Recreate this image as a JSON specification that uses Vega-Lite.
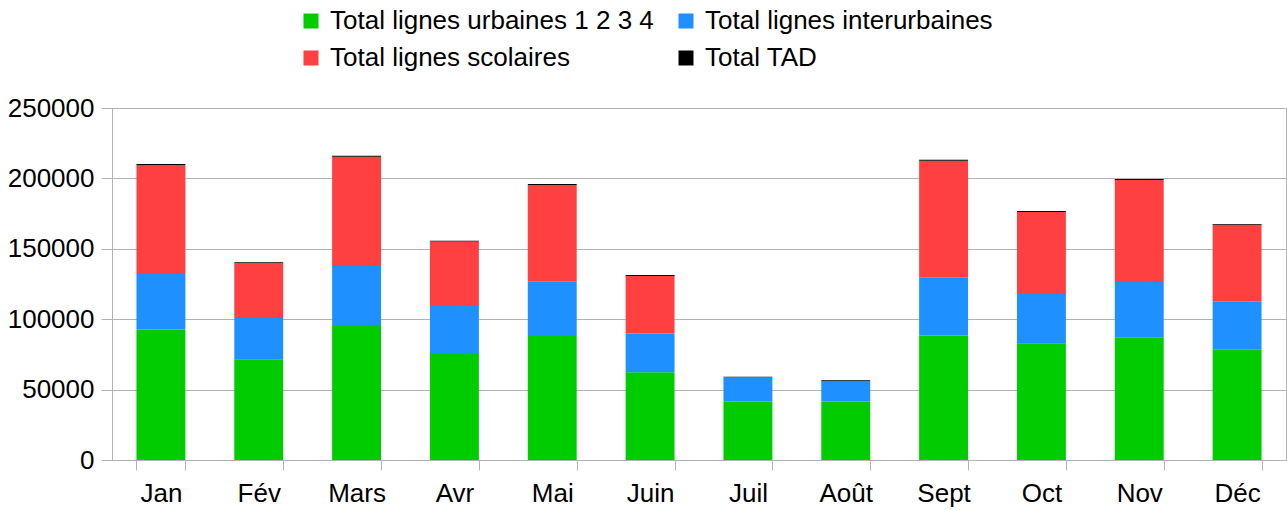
{
  "$schema": "https://vega.github.io/schema/vega-lite/v6.json",
  "autosize": {"type": "none"},
  "padding": {"left": 112, "top": 108, "right": 1, "bottom": 50},
  "width": 1174,
  "height": 352,
  "config": {
    "font": "Liberation Sans",
    "view": {"stroke": "#b3b3b3", "strokeWidth": 1},
    "axis": {"labelFont": "Liberation Sans", "labelFontSize": 26, "labelColor": "#000000", "domainColor": "#b3b3b3", "tickColor": "#b3b3b3", "gridColor": "#b3b3b3", "title": null}
  },
  "data": {
    "values": [
      {"mois": "Jan", "serie": "Total lignes urbaines 1 2 3 4", "valeur": 92600},
      {"mois": "Jan", "serie": "Total lignes interurbaines", "valeur": 39500},
      {"mois": "Jan", "serie": "Total lignes scolaires", "valeur": 77500},
      {"mois": "Jan", "serie": "Total TAD", "valeur": 700},
      {"mois": "Fév", "serie": "Total lignes urbaines 1 2 3 4", "valeur": 71500},
      {"mois": "Fév", "serie": "Total lignes interurbaines", "valeur": 29300},
      {"mois": "Fév", "serie": "Total lignes scolaires", "valeur": 39100},
      {"mois": "Fév", "serie": "Total TAD", "valeur": 600},
      {"mois": "Mars", "serie": "Total lignes urbaines 1 2 3 4", "valeur": 95100},
      {"mois": "Mars", "serie": "Total lignes interurbaines", "valeur": 42700},
      {"mois": "Mars", "serie": "Total lignes scolaires", "valeur": 77500},
      {"mois": "Mars", "serie": "Total TAD", "valeur": 700},
      {"mois": "Avr", "serie": "Total lignes urbaines 1 2 3 4", "valeur": 76000},
      {"mois": "Avr", "serie": "Total lignes interurbaines", "valeur": 33400},
      {"mois": "Avr", "serie": "Total lignes scolaires", "valeur": 45700},
      {"mois": "Avr", "serie": "Total TAD", "valeur": 700},
      {"mois": "Mai", "serie": "Total lignes urbaines 1 2 3 4", "valeur": 88000},
      {"mois": "Mai", "serie": "Total lignes interurbaines", "valeur": 38900},
      {"mois": "Mai", "serie": "Total lignes scolaires", "valeur": 68500},
      {"mois": "Mai", "serie": "Total TAD", "valeur": 700},
      {"mois": "Juin", "serie": "Total lignes urbaines 1 2 3 4", "valeur": 62400},
      {"mois": "Juin", "serie": "Total lignes interurbaines", "valeur": 27500},
      {"mois": "Juin", "serie": "Total lignes scolaires", "valeur": 40800},
      {"mois": "Juin", "serie": "Total TAD", "valeur": 700},
      {"mois": "Juil", "serie": "Total lignes urbaines 1 2 3 4", "valeur": 41600},
      {"mois": "Juil", "serie": "Total lignes interurbaines", "valeur": 16600},
      {"mois": "Juil", "serie": "Total lignes scolaires", "valeur": 500},
      {"mois": "Juil", "serie": "Total TAD", "valeur": 500},
      {"mois": "Août", "serie": "Total lignes urbaines 1 2 3 4", "valeur": 41600},
      {"mois": "Août", "serie": "Total lignes interurbaines", "valeur": 14400},
      {"mois": "Août", "serie": "Total lignes scolaires", "valeur": 0},
      {"mois": "Août", "serie": "Total TAD", "valeur": 700},
      {"mois": "Sept", "serie": "Total lignes urbaines 1 2 3 4", "valeur": 88500},
      {"mois": "Sept", "serie": "Total lignes interurbaines", "valeur": 41300},
      {"mois": "Sept", "serie": "Total lignes scolaires", "valeur": 82700},
      {"mois": "Sept", "serie": "Total TAD", "valeur": 700},
      {"mois": "Oct", "serie": "Total lignes urbaines 1 2 3 4", "valeur": 83000},
      {"mois": "Oct", "serie": "Total lignes interurbaines", "valeur": 34900},
      {"mois": "Oct", "serie": "Total lignes scolaires", "valeur": 58300},
      {"mois": "Oct", "serie": "Total TAD", "valeur": 700},
      {"mois": "Nov", "serie": "Total lignes urbaines 1 2 3 4", "valeur": 87100},
      {"mois": "Nov", "serie": "Total lignes interurbaines", "valeur": 39300},
      {"mois": "Nov", "serie": "Total lignes scolaires", "valeur": 72500},
      {"mois": "Nov", "serie": "Total TAD", "valeur": 700},
      {"mois": "Déc", "serie": "Total lignes urbaines 1 2 3 4", "valeur": 78600},
      {"mois": "Déc", "serie": "Total lignes interurbaines", "valeur": 34100},
      {"mois": "Déc", "serie": "Total lignes scolaires", "valeur": 54300},
      {"mois": "Déc", "serie": "Total TAD", "valeur": 700}
    ]
  },
  "transform": [
    {"calculate": "indexof(['Total lignes urbaines 1 2 3 4', 'Total lignes interurbaines', 'Total lignes scolaires', 'Total TAD'], datum.serie)", "as": "rang"}
  ],
  "mark": {"type": "bar"},
  "encoding": {
    "x": {
      "field": "mois", "type": "nominal",
      "sort": ["Jan", "Fév", "Mars", "Avr", "Mai", "Juin", "Juil", "Août", "Sept", "Oct", "Nov", "Déc"],
      "scale": {"paddingInner": 0.5, "paddingOuter": 0.25},
      "axis": {"labelAngle": 0, "tickBand": "extent", "tickSize": 10, "labelPadding": 10, "grid": false}
    },
    "y": {
      "field": "valeur", "type": "quantitative", "stack": "zero",
      "scale": {"domain": [0, 250000], "nice": false},
      "axis": {"values": [0, 50000, 100000, 150000, 200000, 250000], "format": "d", "tickSize": 11, "labelPadding": 7, "grid": true}
    },
    "color": {
      "field": "serie", "type": "nominal",
      "scale": {
        "domain": ["Total lignes urbaines 1 2 3 4", "Total lignes interurbaines", "Total lignes scolaires", "Total TAD"],
        "range": ["#00cc00", "#1e90ff", "#ff4040", "#000000"]
      },
      "legend": {
        "orient": "none", "direction": "horizontal", "legendX": 186, "legendY": -100, "columns": 2, "columnPadding": 19, "rowPadding": 11,
        "title": null, "symbolType": "square", "symbolSize": 225, "symbolStrokeWidth": 0, "symbolOpacity": 1,
        "labelFont": "Liberation Sans", "labelFontSize": 26, "labelColor": "#000000", "labelOffset": 6, "padding": 0, "labelLimit": 500
      }
    },
    "order": {"field": "rang", "type": "quantitative", "sort": "ascending"}
  }
}
